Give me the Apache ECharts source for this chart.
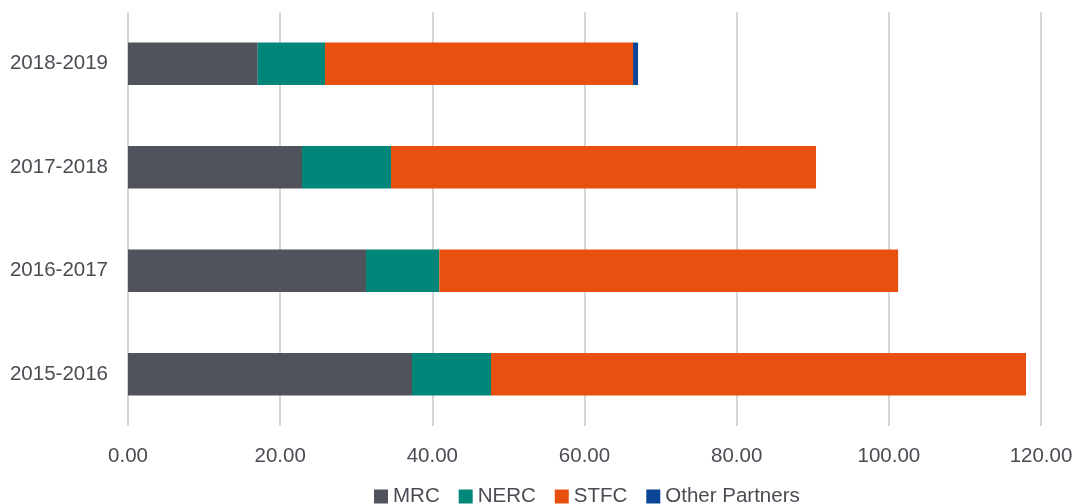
<!DOCTYPE html>
<html>
<head>
<meta charset="utf-8">
<script src="https://cdn.jsdelivr.net/npm/echarts@6/dist/echarts.min.js"></script>
<style>html,body{margin:0;padding:0;background:#fff}#c{width:1078px;height:504px}</style>
</head>
<body>
<div id="c"></div>
<script>
const categories = ['2015-2016', '2016-2017', '2017-2018', '2018-2019'];
const seriesNames = ['MRC', 'NERC', 'STFC', 'Other Partners'];
const mrc = [37.33, 31.28, 22.87, 17.05];
const nerc = [10.38, 9.64, 11.70, 8.84];
const stfc = [70.32, 60.30, 55.86, 40.49];
const other = [0, 0, 0, 0.66];
const xTicks = [0, 20, 40, 60, 80, 100, 120];
const colors = ['#50535b', '#00877a', '#e8500f', '#0b4595'];

const values = [mrc, nerc, stfc, other];
const textColor = '#4a4c53';
const font = 'Liberation Sans, Arial, sans-serif';

const chart = echarts.init(document.getElementById('c'));
chart.setOption({
  animation: false,
  textStyle: { fontFamily: font },
  grid: { left: 128, right: 37, top: 12, bottom: 78 },
  legend: {
    top: 481, left: 369,
    itemWidth: 14, itemHeight: 14, itemGap: 19,
    icon: 'rect',
    textStyle: { fontSize: 20.5, color: textColor, fontFamily: font },
    data: seriesNames
  },
  xAxis: {
    type: 'value', min: xTicks[0], max: xTicks[xTicks.length - 1], interval: 20,
    axisLine: { show: false }, axisTick: { show: false },
    splitLine: { lineStyle: { color: '#d6d6d6', width: 2 } },
    axisLabel: { color: textColor, fontSize: 20.5, margin: 20, formatter: v => v.toFixed(2) }
  },
  yAxis: {
    type: 'category', data: categories,
    axisLine: { show: false }, axisTick: { show: false },
    axisLabel: { color: textColor, fontSize: 20.5, margin: 20 }
  },
  series: seriesNames.map((n, i) => ({
    name: n, type: 'bar', stack: 'total', data: values[i],
    barCategoryGap: '59%',
    itemStyle: { color: colors[i] }
  }))
});
</script>
</body>
</html>
